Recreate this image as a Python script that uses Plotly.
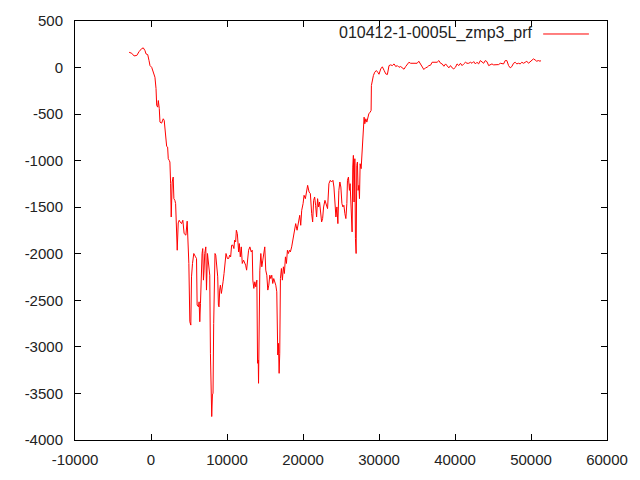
import plotly.graph_objects as go

series_name = "010412-1-0005L_zmp3_prf"

x_vals = [
    -2880, -2530, -2230, -1870, -1570, -1220, -1010, -790, -660, -430, -260, -130, 90, 300, 520, 660, 750, 880, 960, 1090,
    1180, 1400, 1610, 1740, 1830, 1930, 2060, 2190, 2270, 2400, 2490, 2580, 2660, 2790, 2920, 3010, 3140, 3240, 3370, 3450,
    3580, 3710, 3840, 4020, 4190, 4360, 4590, 4760, 4980, 5110, 5240, 5330, 5460, 5630, 5860, 5990, 6070, 6250, 6330, 6420,
    6510, 6640, 6720, 6810, 6900, 6980, 7070, 7210, 7300, 7430, 7600, 7730, 7820, 7900, 7990, 8080, 8160, 8250, 8340, 8420,
    8520, 8610, 8690, 8780, 8870, 8950, 9040, 9130, 9260, 9340, 9480, 9610, 9740, 9870, 10050, 10220, 10350, 10480, 10610, 10780,
    10910, 11000, 11140, 11230, 11360, 11530, 11620, 11750, 11880, 12010, 12180, 12310, 12450, 12580, 12710, 12840, 13010, 13190, 13320, 13400,
    13530, 13660, 13790, 13930, 14020, 14110, 14150, 14240, 14320, 14450, 14580, 14710, 14840, 14970, 15100, 15240, 15370, 15500, 15630, 15760,
    15890, 16020, 16150, 16280, 16420, 16550, 16680, 16770, 16860, 16940, 17030, 17160, 17290, 17420, 17550, 17690, 17820, 17950, 18080, 18210,
    18340, 18510, 18700, 18870, 19040, 19220, 19390, 19570, 19700, 19830, 20010, 20140, 20310, 20440, 20610, 20800, 20970, 21140, 21270, 21400,
    21530, 21660, 21790, 21920, 22050, 22180, 22310, 22450, 22580, 22710, 22890, 23060, 23230, 23410, 23590, 23760, 23940, 24070, 24200, 24330,
    24460, 24590, 24720, 24850, 24980, 25120, 25250, 25380, 25510, 25640, 25770, 25850, 25980, 26110, 26200, 26330, 26460, 26550, 26630, 26720,
    26820, 26900, 26990, 27080, 27160, 27250, 27350, 27430, 27520, 27650, 27740, 27820, 27910, 28040, 28130, 28270, 28400, 28530, 28660, 28830,
    28960, 29000, 29130, 29260, 29440, 29650, 29830, 30000, 30230, 30440, 30670, 30890, 31100, 31320, 31540, 31750, 31980, 32200, 32410, 32630,
    32850, 33060, 33290, 33510, 33720, 33940, 34160, 34370, 34600, 34810, 35020, 35240, 35460, 35670, 35900, 36120, 36330, 36560, 36780, 36990,
    37220, 37440, 37650, 37880, 38100, 38310, 38540, 38760, 38970, 39190, 39410, 39620, 39840, 40060, 40270, 40500, 40720, 40930, 41150, 41370,
    41580, 41810, 42030, 42240, 42460, 42680, 42890, 43110, 43330, 43540, 43770, 43990, 44200, 44430, 44650, 44860, 45080, 45300, 45510, 45740,
    45960, 46170, 46390, 46610, 46820, 47050, 47270, 47480, 47700, 47920, 48130, 48360, 48580, 48790, 49020, 49240, 49450, 49670, 49890, 50100,
    50320, 50540, 50750, 50970, 51190, 51320,
]

y_vals = [
    164, 153, 125, 130, 171, 204, 211, 182, 147, 139, 75, 21, 3, -60, -104, -225, -407, -425, -354, -440,
    -586, -597, -550, -568, -640, -783, -847, -854, -979, -997, -1015, -1247, -1605, -1229, -1176, -1408, -1426, -1461, -1676, -1962,
    -1669, -1640, -1658, -1676, -1640, -1783, -1800, -1650, -2104, -2730, -2766, -2248, -2104, -1997, -2033, -2051, -2551, -2570, -2516, -2730,
    -2533, -2069, -1997, -1944, -2283, -2176, -1997, -1926, -2390, -1997, -2104, -2230, -3069, -3623, -3748, -3516, -3497, -2748, -2462, -1997,
    -2015, -2087, -2158, -2248, -2551, -2570, -2390, -2337, -2426, -2355, -2301, -2212, -2069, -1997, -2051, -2051, -2015, -2033, -1908, -1908,
    -1944, -1854, -1872, -1747, -1783, -1980, -1890, -2033, -1926, -2104, -2069, -2087, -2122, -2176, -2033, -1962, -1926, -1980, -1962, -2283,
    -2372, -2301, -2355, -2283, -3176, -3141, -3391, -2784, -2176, -1997, -2140, -2069, -1980, -1926, -2176, -2230, -2390, -2337, -2230, -2266,
    -2230, -2319, -2266, -2301, -2337, -2408, -3087, -2962, -3284, -3069, -2266, -2158, -2283, -2140, -2212, -2033, -2104, -1962, -1997, -1962,
    -1980, -1926, -1837, -1712, -1676, -1747, -1658, -1587, -1694, -1533, -1461, -1372, -1408, -1337, -1265, -1337, -1354, -1569, -1658, -1426,
    -1390, -1479, -1605, -1408, -1497, -1444, -1533, -1658, -1622, -1497, -1426, -1461, -1515, -1247, -1211, -1229, -1211, -1283, -1461, -1605,
    -1497, -1676, -1319, -1229, -1283, -1461, -1497, -1479, -1569, -1622, -1461, -1211, -1176, -1319, -1247, -1587, -1765, -1069, -943, -1444,
    -979, -1837, -1997, -1051, -1015, -1319, -1265, -1408, -1033, -1086, -943, -765, -676, -533, -604, -550, -586, -533, -497, -479,
    -461, -193, -121, -86, -50, -32, -50, -72, -14, 8, -30, -68, -75, 21, 29, 21, 39, 11, 21, 3,
    11, -3, -18, 11, 39, 57, 46, 46, 39, 39, 46, 68, 39, 3, -21, -3, 3, 21, 25, 57,
    57, 64, 57, 75, 46, 39, 14, 39, 11, -3, 21, -3, -14, 3, 39, 21, 46, 21, 39, 57,
    46, 46, 57, 46, 64, 39, 57, 39, 75, 57, 46, 75, 64, 21, 32, 39, 29, 29, 32, 32,
    46, 39, 39, 75, 75, 21, -3, 11, 46, 57, 39, 46, 39, 57, 46, 57, 68, 46, 64, 75,
    93, 82, 68, 75, 68, 75,
]

x_ticks = [-10000, 0, 10000, 20000, 30000, 40000, 50000, 60000]
y_ticks = [500, 0, -500, -1000, -1500, -2000, -2500, -3000, -3500, -4000]

fig = go.Figure()
fig.add_trace(go.Scatter(
    x=x_vals, y=y_vals, mode="lines", name=series_name,
    line=dict(color="#ff0000", width=1), showlegend=False,
))

axis_common = dict(
    showgrid=False, zeroline=False, showline=True, linecolor="black", linewidth=1,
    mirror="ticks", ticks="inside", ticklen=6, tickcolor="black", tickwidth=1,
    tickfont=dict(family="Liberation Sans", size=15, color="#222222"),
)

fig.update_layout(
    width=640, height=480,
    margin=dict(l=75, r=31, t=20, b=40),
    paper_bgcolor="white", plot_bgcolor="white",
    xaxis=dict(range=[-10000, 60000], tickvals=x_ticks,
               ticktext=[str(v) for v in x_ticks], ticklabelstandoff=6, **axis_common),
    yaxis=dict(range=[-4000, 500], tickvals=y_ticks,
               ticktext=[str(v) for v in y_ticks], ticklabelstandoff=8, **axis_common),
    annotations=[dict(
        x=0.865, y=0.971, xref="paper", yref="paper", xanchor="right", yanchor="middle",
        text=series_name, showarrow=False,
        font=dict(family="Liberation Sans", size=16, color="#222222"),
    )],
    shapes=[dict(type="line", xref="paper", yref="paper",
                 x0=0.880, x1=0.966, y0=0.969, y1=0.969,
                 line=dict(color="#ff0000", width=1))],
)

fig.write_html(
    "out.html",
    config={"displayModeBar": False},
    post_script="document.body.style.margin='0';document.body.style.overflow='hidden';",
)
